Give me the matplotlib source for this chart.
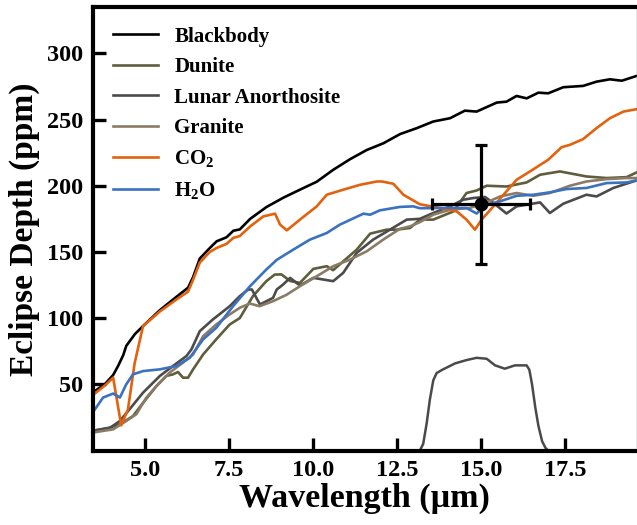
import matplotlib
matplotlib.use('Agg')
import matplotlib.pyplot as plt

plt.rcParams['font.family'] = ['Liberation Serif', 'DejaVu Serif']
plt.rcParams['font.weight'] = 'bold'
plt.rcParams['mathtext.fontset'] = 'custom'
plt.rcParams['mathtext.rm'] = 'Liberation Serif:bold'
plt.rcParams['mathtext.bf'] = 'Liberation Serif:bold'
plt.rcParams['mathtext.it'] = 'Liberation Serif:bold'

# spectra, wavelength in micron, depth in ppm
wl_bb = [3.45, 3.8, 4.05, 4.2, 4.35, 4.44, 4.7, 4.94, 5.44, 5.93, 6.28, 6.43, 6.63, 6.93, 7.13,
         7.42, 7.63, 7.82, 8.13, 8.62, 9.12, 9.61, 10.11, 10.6, 11.1, 11.6, 12.09, 12.59, 13.09,
         13.58, 14.08, 14.52, 14.87, 15.47, 15.76, 16.06, 16.36, 16.71, 17.0, 17.45, 18.04,
         18.44, 18.84, 19.19, 19.63]
blackbody = [44, 50, 57, 64, 72, 79, 88, 94, 106, 116, 123, 131, 145, 153, 158,
             161, 166, 167, 175, 184, 191, 197, 203, 212, 220, 227, 232, 239, 243.5,
             248.5, 251, 256.7, 256, 262.8, 263.5, 267.8, 266, 270.3, 269.8, 274.4, 275.4,
             278.6, 280.4, 279.3, 282.9]

wl_dun = [3.45, 3.95, 4.25, 4.64, 4.94, 5.34, 5.63, 5.83, 5.98, 6.13, 6.28, 6.43, 6.73, 7.12,
          7.52, 7.82, 8.21, 8.61, 8.86, 9.06, 9.32, 9.61, 10.01, 10.41, 10.6, 10.9, 11.3, 11.7,
          12.19, 12.49, 12.89, 13.18, 13.58, 14.18, 14.57, 14.87, 15.17, 15.76, 16.36, 16.76,
          17.35, 18.14, 18.74, 19.34, 19.63]
dunite = [14.8, 17.3, 19.8, 26, 36, 48.7, 56.3, 57.5, 59.3, 55, 55, 61.3, 72.6, 84,
          95.2, 100, 116.6, 127.9, 132.9, 133, 128, 126.6, 137.2, 139.2, 136.2, 142.9, 151.7, 163.8,
          166.8, 166.8, 168.1, 174.4, 174.4, 180.6, 194.5, 196.4, 200, 199.4, 202.5, 208.3,
          210.8, 207, 205.8, 206.5, 210]

wl_lun = [3.45, 3.95, 4.25, 4.54, 4.94, 5.44, 5.83, 6.23, 6.38, 6.63, 7.02, 7.52, 7.82, 8.07,
          8.18, 8.42, 8.81, 8.92, 9.11, 9.32, 9.61, 10.01, 10.6, 10.9, 11.3, 11.79, 12.29, 12.79,
          13.18, 13.58, 14.08, 14.47, 14.77, 15.12, 15.37, 15.76, 16.06, 16.76, 17.05, 17.45,
          18.14, 18.44, 18.94, 19.63]
lunar = [15, 17, 22.3, 31.2, 43.7, 56.3, 63.8, 71.3, 76.4, 90.2, 99, 109, 116.6, 121.6,
         121.6, 110.3, 115.3, 121.6, 125.4, 130.4, 124.6, 130.4, 127.9, 134.2, 149.3, 159.3, 166.8, 174.4,
         175, 179.4, 184.4, 189.4, 190.7, 191.5, 187, 179, 184.4, 187.4, 179.4, 186.4,
         193.2, 191.9, 198.3, 204]

wl_gra = [3.45, 4.05, 4.44, 4.74, 5.04, 5.34, 5.73, 6.13, 6.43, 6.73, 7.12, 7.52, 7.82, 8.12,
          8.41, 8.81, 9.21, 9.61, 10.11, 10.6, 11.1, 11.6, 12.09, 12.59, 12.89, 13.18, 13.58,
          14.08, 14.67, 15.17, 15.57, 16.06, 16.56, 17.05, 17.65, 18.14, 18.74, 19.34, 19.63]
granite = [13.6, 16, 22.3, 27.4, 40, 48.7, 58.8, 66.4, 72.6, 86.4, 95.2, 102.8, 107.8, 111,
           109, 112.8, 117.6, 124.1, 131.6, 139.2, 144.2, 150.5, 159.3, 167.5, 169.3, 172.5, 178.1,
           181.9, 183.2, 187.4, 191.9, 194.5, 192.4, 194.5, 200, 203.2, 205, 205.8, 205.8]

wl_co2 = [3.45, 3.8, 4.05, 4.29, 4.49, 4.69, 4.94, 5.44, 5.93, 6.28, 6.43, 6.63, 6.93, 7.13,
          7.42, 7.63, 7.82, 8.13, 8.52, 8.87, 9.02, 9.22, 9.61, 10.11, 10.41, 10.9, 11.4, 11.9,
          12.05, 12.39, 12.69, 13.18, 13.78, 14.28, 14.57, 14.82, 15.02, 15.37, 16.06, 16.46,
          17.0, 17.4, 17.65, 18.04, 18.44, 18.84, 19.24, 19.63]
co2 = [42, 49, 55, 19, 31, 66, 94, 105, 114, 120, 129, 142, 150, 153,
       156, 160.6, 162, 169.3, 176.8, 178.9, 170.6, 166.3, 174.4, 184.4, 193.2, 197, 200.7, 203.2,
       203.2, 201.5, 193.2, 186, 183.2, 180.6, 174.4, 166.8, 174.4, 184.4, 204.5, 210.8,
       219.6, 229.1, 230.9, 235.2, 243.5, 251, 256, 257.8]

wl_h2o = [3.45, 3.75, 4.05, 4.25, 4.44, 4.64, 4.94, 5.44, 5.93, 6.33, 6.73, 7.12, 7.62, 8.12,
          8.61, 8.92, 9.41, 9.91, 10.41, 10.8, 11.5, 11.7, 11.99, 12.59, 12.99, 13.18, 13.78,
          14.57, 14.87, 15.17, 15.57, 16.06, 16.56, 17.05, 17.55, 18.14, 18.74, 19.34, 19.63]
h2o = [29, 40, 43, 40, 50, 57.5, 60, 61.3, 63.8, 70, 84, 92.7, 109, 124,
       136.7, 144, 151.7, 159.3, 164.3, 170.6, 178.9, 178.1, 181.4, 184, 184.4, 183, 183.2,
       183.2, 179, 185.7, 188.2, 192.4, 193.2, 195, 197.5, 198.3, 202, 202.5, 204]

# filter bandpass (scaled)
wl_band = [13.18, 13.28, 13.38, 13.48, 13.58, 13.68, 13.85, 14.23, 14.57, 14.87, 15.17, 15.42,
           15.71, 16.01, 16.36, 16.44, 16.52, 16.62, 16.71, 16.82, 16.92, 17.0]
band = [0, 5, 20, 38.7, 53, 58.5, 61, 65.8, 68.3, 70, 69.3, 64.3,
        61.8, 64.3, 64.3, 61, 50, 32, 18.6, 7, 2, 0]

# measured eclipse depth
obs_wl, obs_wl_err = 15.0, 1.47
obs_depth, obs_depth_err = 186, 45

fig = plt.figure(figsize=(6.37, 5.25), dpi=100)
ax = fig.add_axes([93 / 637, 74.5 / 525, 543.5 / 637, 443.5 / 525])

lw = 1.9
ax.plot(wl_bb, blackbody, color='black', lw=lw, label='Blackbody')
ax.plot(wl_dun, dunite, color='#5e5d3c', lw=lw, label='Dunite')
ax.plot(wl_lun, lunar, color='#4b4b4b', lw=lw, label='Lunar Anorthosite')
ax.plot(wl_gra, granite, color='#8a7b66', lw=lw, label='Granite')
ax.plot(wl_co2, co2, color='#e2620d', lw=lw, label=r'CO$_\mathbf{2}$')
ax.plot(wl_h2o, h2o, color='#3a72bf', lw=lw, label=r'H$_\mathbf{2}$O')
ax.plot(wl_band, band, color='#4a4a4a', lw=1.8)

ax.errorbar(obs_wl, obs_depth, xerr=obs_wl_err, yerr=obs_depth_err, fmt='o',
            color='black', ms=9, elinewidth=2.3, capsize=4, capthick=2.3, zorder=10)

ax.set_xlim(3.45, 19.63)
ax.set_ylim(0, 335)
ax.set_xticks([5.0, 7.5, 10.0, 12.5, 15.0, 17.5])
ax.set_xticklabels(['5.0', '7.5', '10.0', '12.5', '15.0', '17.5'])
ax.set_yticks([50, 100, 150, 200, 250, 300])

ax.tick_params(direction='in', length=9.5, width=2.4, labelsize=17.5, pad=7)
for side in ['left', 'bottom', 'top']:
    ax.spines[side].set_linewidth(3)
ax.spines['right'].set_linewidth(1)
ax.spines['right'].set_color('#888888')

ax.set_xlabel('Wavelength (µm)', fontsize=24.5, fontweight='bold', labelpad=1)
ax.set_ylabel('Eclipse Depth (ppm)', fontsize=24, fontweight='bold', labelpad=5)

ax.legend(loc='upper left', frameon=False, fontsize=15, handlelength=2.15,
          handletextpad=0.8, labelspacing=0.5, borderaxespad=0.55)

fig.savefig('out.png', dpi=100)
